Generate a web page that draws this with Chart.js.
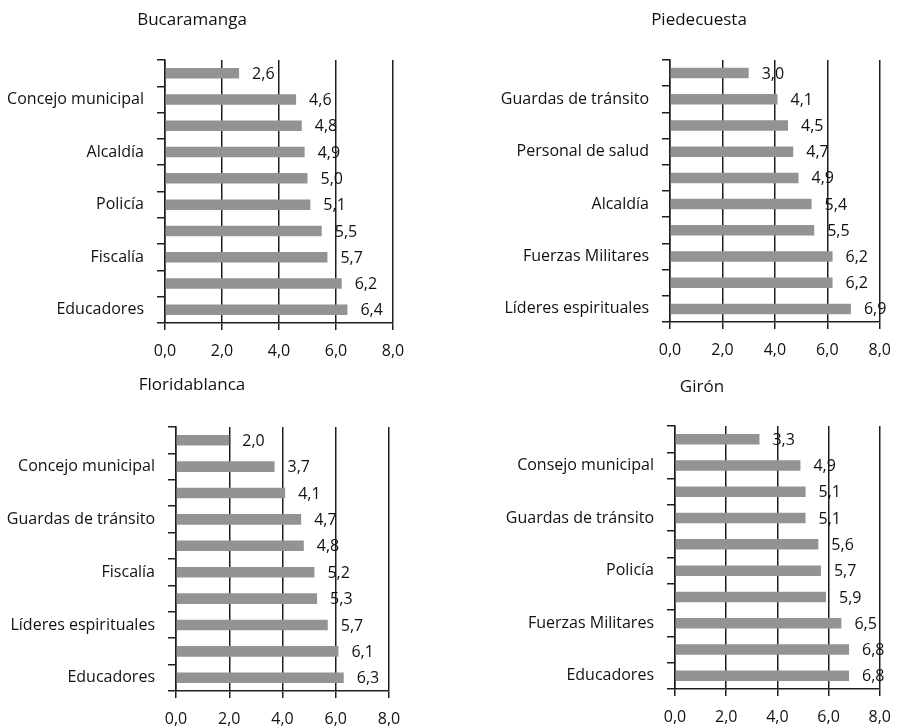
<!DOCTYPE html>
<html lang="es">
<head>
<meta charset="utf-8">
<title>Confianza en instituciones</title>
<script src="https://cdn.jsdelivr.net/npm/chart.js"></script>
<style>
  body { margin: 0; background: #fff; }
  .box { position: absolute; }
</style>
</head>
<body>
<div class="box" style="left:0;top:0;width:450px;height:360px"><canvas id="c1"></canvas></div>
<div class="box" style="left:450px;top:0;width:453px;height:360px"><canvas id="c2"></canvas></div>
<div class="box" style="left:0;top:360px;width:450px;height:366px"><canvas id="c3"></canvas></div>
<div class="box" style="left:450px;top:360px;width:453px;height:366px"><canvas id="c4"></canvas></div>
<script>
// data (every other category name is hidden in the original)
var bucaLabels = ['', 'Concejo municipal', '', 'Alcaldía', '', 'Policía', '', 'Fiscalía', '', 'Educadores'];
var bucaValues = [2.6, 4.6, 4.8, 4.9, 5.0, 5.1, 5.5, 5.7, 6.2, 6.4];

var piedeLabels = ['', 'Guardas de tránsito', '', 'Personal de salud', '', 'Alcaldía', '', 'Fuerzas Militares', '', 'Líderes espirituales'];
var piedeValues = [3.0, 4.1, 4.5, 4.7, 4.9, 5.4, 5.5, 6.2, 6.2, 6.9];

var floriLabels = ['', 'Concejo municipal', '', 'Guardas de tránsito', '', 'Fiscalía', '', 'Líderes espirituales', '', 'Educadores'];
var floriValues = [2.0, 3.7, 4.1, 4.7, 4.8, 5.2, 5.3, 5.7, 6.1, 6.3];

var gironLabels = ['', 'Consejo municipal', '', 'Guardas de tránsito', '', 'Policía', '', 'Fuerzas Militares', '', 'Educadores'];
var gironValues = [3.3, 4.9, 5.1, 5.1, 5.6, 5.7, 5.9, 6.5, 6.8, 6.8];

var xTicks = [0, 2, 4, 6, 8];

var FONT = '"Open Sans", sans-serif';
var LINE = '#1e1e1e';

function comma(v) {
    return Number(v).toFixed(1).replace('.', ',');
}

// title drawn at a fixed spot, like the original layout
var titlePlugin = {
    id: 'fixedTitle',
    afterDraw: function(chart) {
        var o = chart.options.plugins.fixedTitle;
        var ctx = chart.ctx;
        ctx.save();
        ctx.font = '17px ' + FONT;
        ctx.fillStyle = '#111';
        ctx.textAlign = 'center';
        ctx.textBaseline = 'middle';
        ctx.fillText(o.text, o.x, o.y);
        ctx.restore();
    }
};

// value labels to the right of each bar
var valuePlugin = {
    id: 'barValues',
    afterDatasetsDraw: function(chart) {
        var ctx = chart.ctx;
        var meta = chart.getDatasetMeta(0);
        var vals = chart.data.datasets[0].data;
        ctx.save();
        ctx.font = '16px ' + FONT;
        ctx.fillStyle = '#111';
        ctx.textAlign = 'left';
        ctx.textBaseline = 'middle';
        meta.data.forEach(function(bar, i) {
            ctx.fillText(comma(vals[i]), bar.x + 13, bar.y + 1);
        });
        ctx.restore();
    }
};

function makeChart(id, title, titleX, titleY, labels, values, box) {
    var ctx = document.getElementById(id).getContext('2d');
    return new Chart(ctx, {
        type: 'bar',
        data: {
            labels: labels,
            datasets: [{
                data: values,
                backgroundColor: '#939393',
                borderWidth: 0,
                categoryPercentage: 1,
                barPercentage: 0.4
            }]
        },
        options: {
            indexAxis: 'y',
            responsive: true,
            maintainAspectRatio: false,
            animation: false,
            layout: {
                padding: { top: box.top, right: box.w - box.right, left: 0, bottom: 0 }
            },
            plugins: {
                legend: { display: false },
                tooltip: { enabled: false },
                fixedTitle: { text: title, x: titleX, y: titleY }
            },
            scales: {
                x: {
                    min: 0,
                    max: 8,
                    afterBuildTicks: function(scale) {
                        scale.ticks = xTicks.map(function(v) { return { value: v }; });
                    },
                    afterFit: function(scale) { scale.height = box.h - box.bottom; },
                    grid: { color: LINE, lineWidth: 1.5, tickLength: 7, drawOnChartArea: true },
                    border: { display: true, color: LINE, width: 1.5 },
                    ticks: {
                        padding: 12,
                        color: '#111',
                        font: { family: FONT, size: 16 },
                        callback: function(v) { return comma(v); }
                    }
                },
                y: {
                    afterFit: function(scale) { scale.width = box.left; },
                    grid: { color: LINE, lineWidth: 1.5, tickLength: 8, drawOnChartArea: false, offset: true },
                    border: { display: true, color: LINE, width: 1.5 },
                    ticks: {
                        autoSkip: false,
                        padding: 13,
                        color: '#111',
                        font: { family: FONT, size: 16 }
                    }
                }
            }
        },
        plugins: [titlePlugin, valuePlugin]
    });
}

makeChart('c1', 'Bucaramanga', 192, 20, bucaLabels, bucaValues,
    { w: 450, h: 360, left: 165, right: 393, top: 60, bottom: 323 });
makeChart('c2', 'Piedecuesta', 249, 20, piedeLabels, piedeValues,
    { w: 453, h: 360, left: 220, right: 437, top: 60, bottom: 322 });
makeChart('c3', 'Floridablanca', 192, 25, floriLabels, floriValues,
    { w: 450, h: 366, left: 176, right: 389, top: 67, bottom: 331 });
makeChart('c4', 'Girón', 252, 27, gironLabels, gironValues,
    { w: 453, h: 366, left: 225, right: 433, top: 66, bottom: 329 });
</script>
</body>
</html>
